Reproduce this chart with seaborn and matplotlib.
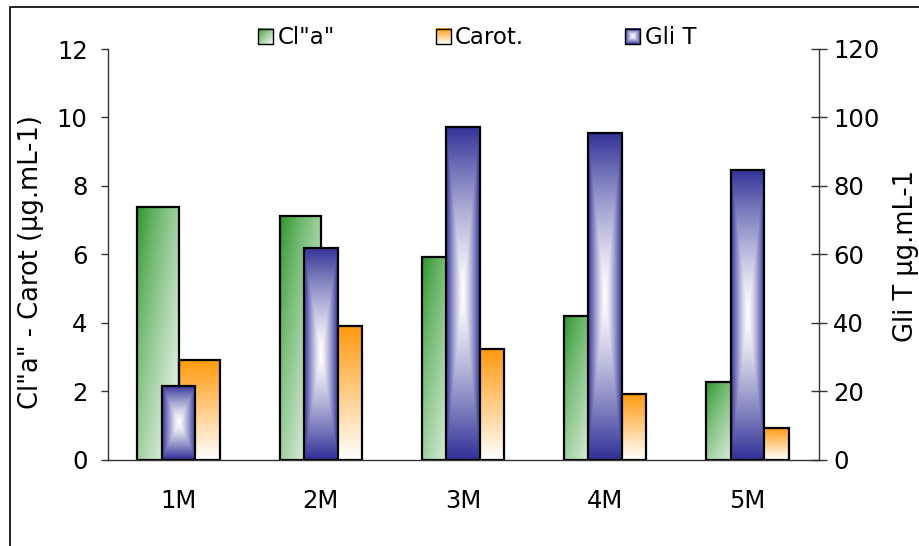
import numpy as np
import pandas as pd
import matplotlib
matplotlib.use("Agg")
import matplotlib.pyplot as plt
import seaborn as sns
from matplotlib.patches import Rectangle
from matplotlib.image import BboxImage
from matplotlib.transforms import Bbox, TransformedBbox
from matplotlib.legend_handler import HandlerBase

# ---- data -------------------------------------------------------------
months = ["1M", "2M", "3M", "4M", "5M"]
chl_a = [7.37, 7.13, 5.91, 4.20, 2.27]      # µg.mL-1 (left axis)
carot = [2.91, 3.91, 3.22, 1.92, 0.93]      # µg.mL-1 (left axis)
gli_t = [21.6, 61.8, 97.1, 95.4, 84.7]      # µg.mL-1 (right axis)

left_ticks = [0, 2, 4, 6, 8, 10, 12]
right_ticks = [0, 20, 40, 60, 80, 100, 120]

series_names = ['Cl"a"', "Carot.", "Gli T"]
left_label = 'Cl"a" - Carot (µg.mL-1)'
right_label = "Gli T µg.mL-1"

# ---- style ------------------------------------------------------------
sns.set_style("white")
plt.rcParams["font.family"] = ["DejaVu Sans"]
plt.rcParams["text.color"] = "black"
plt.rcParams["axes.labelcolor"] = "black"
plt.rcParams["xtick.color"] = "black"
plt.rcParams["ytick.color"] = "black"
plt.rcParams["axes.edgecolor"] = "#333333"
plt.rcParams["axes.linewidth"] = 1.0

TICK_FS = 17.5
LABEL_FS = 18.5
LEGEND_FS = 16.5

GREEN = np.array([0.15, 0.58, 0.15])
ORANGE = np.array([1.00, 0.60, 0.05])
BLUE = np.array([0.20, 0.20, 0.60])
WHITE = np.array([1.0, 1.0, 1.0])


def blend(color, t):
    """t=0 -> color, t=1 -> white"""
    t = np.clip(t, 0, 1)[..., None]
    return color * (1 - t) + WHITE * t


def diag_gradient(color, n=96):
    u = np.linspace(0, 1, n)
    X, Y = np.meshgrid(u, u)
    return blend(color, ((X + Y) / 2) ** 0.8 * 0.97)


def vert_gradient(color, n=96):
    u = np.linspace(0, 1, n)
    X, Y = np.meshgrid(u, u)
    return blend(color, Y * 0.99)


def center_gradient(color, n=96):
    u = np.linspace(0, 1, n)
    X, Y = np.meshgrid(u, u)
    d = np.maximum(np.abs(2 * X - 1), np.abs(2 * Y - 1))
    return blend(color, 1 - d ** 1.3)


gradients = [diag_gradient(GREEN), vert_gradient(ORANGE), center_gradient(BLUE)]


def fill_bars(ax, container, img):
    for bar in container.patches:
        x0, y0 = bar.get_x(), bar.get_y()
        w, h = bar.get_width(), bar.get_height()
        im = ax.imshow(img, extent=(x0, x0 + w, y0, y0 + h), origin="upper",
                       aspect="auto", interpolation="bilinear", zorder=bar.get_zorder() - 0.1)
        im.set_clip_path(bar)
        bar.set_facecolor("none")


class GradientHandler(HandlerBase):
    def __init__(self, img):
        super().__init__()
        self.img = img

    def create_artists(self, legend, orig_handle, xdescent, ydescent,
                       width, height, fontsize, trans):
        bb = TransformedBbox(Bbox.from_bounds(-xdescent, -ydescent, width, height), trans)
        im = BboxImage(bb, interpolation="bilinear")
        im.set_data(self.img)
        rect = Rectangle((-xdescent, -ydescent), width, height, facecolor="none",
                         edgecolor="black", linewidth=1.0, transform=trans)
        return [im, rect]


# ---- figure -----------------------------------------------------------
W, H = 919, 546
fig = plt.figure(figsize=(W / 100, H / 100), dpi=100)
ax = fig.add_axes([107.5 / W, 1 - 459.5 / H, 711 / W, 410.5 / H])

df = pd.DataFrame({
    "Mes": months * 2,
    "Serie": [series_names[0]] * len(months) + [series_names[1]] * len(months),
    "Valor": chl_a + carot,
})
sns.barplot(data=df, x="Mes", y="Valor", hue="Serie", ax=ax, width=0.58, gap=0,
            palette=[tuple(GREEN), tuple(ORANGE)], saturation=1, errorbar=None,
            edgecolor="black", linewidth=1.6, legend=False)

ax2 = ax.twinx()
sns.barplot(x=months, y=gli_t, ax=ax2, width=0.237, color=tuple(BLUE), saturation=1,
            errorbar=None, edgecolor="black", linewidth=1.6)

fill_bars(ax, ax.containers[0], gradients[0])
fill_bars(ax, ax.containers[1], gradients[1])
fill_bars(ax2, ax2.containers[0], gradients[2])

# ---- axes -------------------------------------------------------------
ax.set_xlim(-0.5, len(months) - 0.5)
ax.set_ylim(0, 12)
ax2.set_ylim(0, 120)
ax.set_yticks(left_ticks)
ax2.set_yticks(right_ticks)

ax.set_xticks(range(len(months)))
ax.set_xticklabels(months)
ax.set_xticks(np.arange(-0.5, len(months)), minor=True)
ax.tick_params(axis="x", which="major", length=0, pad=21, labelsize=TICK_FS)
ax.tick_params(axis="x", which="minor", length=5.3, width=1.0, direction="out", color="#333333")
ax.tick_params(axis="y", length=5.3, width=1.0, direction="out", pad=9.0, labelsize=TICK_FS,
               color="#333333", left=True)
ax2.tick_params(axis="y", length=11.3, width=1.0, direction="inout", pad=5.0, labelsize=TICK_FS,
                color="#333333", right=True)

for s in ("top", "right"):
    ax.spines[s].set_visible(False)
for s in ("top", "left", "bottom"):
    ax2.spines[s].set_visible(False)

ax.set_xlabel("")
ax2.set_xlabel("")
ax.set_ylabel(left_label, fontsize=LABEL_FS, va="center")
ax.yaxis.set_label_coords((31 - 107.5) / 711, (459.5 - 262) / 410.5)
ax2.set_ylabel(right_label, fontsize=LABEL_FS, va="center", rotation=90)
ax2.yaxis.set_label_coords((906 - 107.5) / 711, (459.5 - 256) / 410.5)

# ---- legend -----------------------------------------------------------
handles = [Rectangle((0, 0), 1, 1) for _ in series_names]
fig.legend(handles, series_names, loc="center", bbox_to_anchor=(477 / W, 1 - 38 / H),
           ncol=3, frameon=False, fontsize=LEGEND_FS, handlelength=0.66, handleheight=0.66,
           handletextpad=0.2, columnspacing=4.4, borderpad=0,
           handler_map={h: GradientHandler(g) for h, g in zip(handles, gradients)})

# chart frame
fig.add_artist(Rectangle((9.5 / W, -0.1), 1.2, 1.1 - 7 / H, transform=fig.transFigure,
                         fill=False, edgecolor="black", linewidth=1.2))

fig.savefig("out.png", dpi=100)
